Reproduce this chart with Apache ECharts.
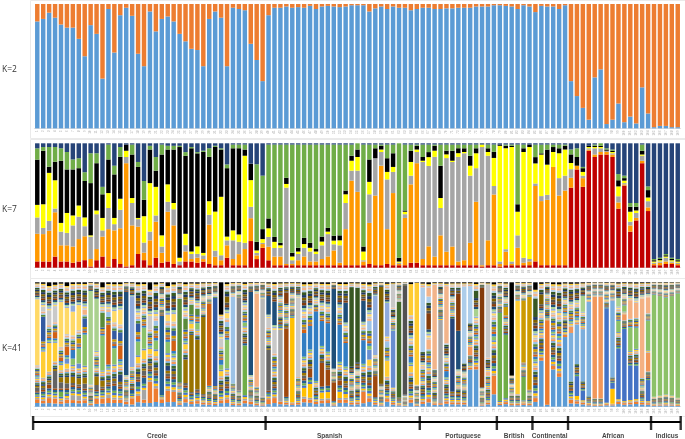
<!DOCTYPE html>
<html><head><meta charset="utf-8">
<style>html,body{margin:0;padding:0;background:#fff}#c{width:685px;height:439px}</style>
<script src="https://cdn.jsdelivr.net/npm/echarts@6/dist/echarts.min.js"></script>
</head><body><div id="c"></div>
<script>
const sampleIds = Array.from({length:109},(_, i)=>String(i+1));

const k2Blue = [86,88,93,89,83.5,81,81,72,58,83,76,40,96,61,91,97,90.5,60,50,94,78,88,90,86,76,70,64,63,50,88,94,89,50,97,96,95,68,55,38,91,
97,97,98,97,97.5,97,98.5,96,98,98.5,98,97.5,98,99,99,99,94,96.5,98,96,98,97,97,95,96,97,97,96,96,96.5,96.5,97,97,97,98,98,98,99,99,98.5,98,96,99,98,93.5,98.5,98,98,96,99,
38,26,16.5,7,41,47.5,3.5,7,20,5,9.5,4,33,12,1,2,2,1,1];

const k7Colors = ['#C00000','#FF9900','#A5A5A5','#FFFF00','#000000','#70AD47','#264478'];
// per sample, bottom to top: red, orange, gray, yellow, black, green, navy
const k7Rows = [
[5,22,13,10,36,9,4],[5,22,5,19,43,3,3],[5,25,8,39,5,16,3],[9,36,3,23,15,12,3],[5,13,11,7,50,10,4],[5,13,10,16,35,14,7],[4,13,17,8,37,8,13],[5,18,18,9,30,8,12],[6,19,8,7,29,7,23],[1,6,18,1,42,24,8],
[6,9,28,3,38,8,8],[9,16,5,10,19,6,35],[1,30,17,12,27,12,1],[7,23,5,5,35,7,18],[3,29,15,9,34,8,3],[1,83,5,5,5,0,1],[2,32,18,4,35,8,1],[11,22,6,1,41,4,15],[6,6,8,21,13,15,30],[2,20,7,39,27,3,2],
[8,29,5,23,13,11,11],[4,8,5,9,65,8,1],[5,40,8,14,28,3,2],[3,31,13,5,43,3,2],[2,0,3,3,89,1,2],[5,8,5,9,62,3,7],[5,2,4,2,83,1,3],[4,4,3,6,74,1,7],[5,2,3,2,82,1,6],[3,32,8,11,36,7,4],
[2,7,5,32,53,1,2],[2,4,4,47,38,1,4],[8,10,4,3,55,3,17],[2,5,15,8,66,3,1],[2,9,10,6,70,3,1],[2,13,5,70,5,4,1],[21,18,9,21,13,0,16],[7,3,2,2,7,63,17],[16,3,1,3,8,43,26],[6,11,8,7,8,60,1],
[2,7,7,5,4,75,1],[2,7,7,2,2,79,1],[2,1,62,3,5,27,1],[2,1,3,3,3,87,1],[2,4,5,2,3,83,1],[2,7,7,3,5,75,1],[2,3,8,3,4,79,1],[2,3,6,2,2,84,1],[2,5,11,3,4,74,1],[2,7,18,2,3,67,1],
[2,12,5,3,4,74,1],[2,2,14,4,4,73,1],[2,29,21,7,3,37,1],[2,68,8,8,4,9,1],[2,59,17,11,6,5,0],[2,3,1,7,4,82,1],[3,33,23,10,18,12,1],[2,56,30,0,8,3,1],[2,80,11,2,3,1,1],[3,28,40,6,11,11,1],
[2,58,17,4,11,7,1],[2,1,1,1,3,93,0],[2,38,3,2,1,53,1],[4,63,7,11,9,5,1],[4,80,9,2,3,1,1],[2,5,78,1,3,10,1],[2,15,64,7,4,6,1],[2,7,81,5,4,1,1],[2,24,22,8,26,17,1],[2,11,76,3,3,5,1],
[2,15,68,1,8,5,1],[2,3,85,3,4,3,1],[2,4,86,1,3,3,1],[2,18,54,8,8,9,1],[2,51,27,12,4,3,1],[1,1,95,2,0,0,1],[2,20,68,3,3,3,1],[2,58,7,23,5,6,1],[1,2,2,93,1,0,1],[2,11,2,82,2,1,1],
[2,1,2,92,1,1,1],[2,14,10,19,6,48,1],[2,2,4,85,3,3,1],[2,3,2,90,2,0,1],[5,60,2,16,5,10,1],[2,51,4,33,1,7,1],[2,52,4,24,12,4,1],[2,79,0,12,4,2,1],[2,56,14,20,4,3,1],[2,60,12,21,3,1,1],
[65,8,7,5,7,4,5],[79,3,0,0,7,7,4],[65,7,2,3,3,1,19],[94,1,1,1,1,0,2],[89,2,5,1,1,1,1],[91,2,3,1,1,2,0],[91,2,1,0,1,1,4],[89,2,1,1,1,1,5],[48,5,5,8,5,5,25],[66,1,1,2,2,2,26],
[29,5,3,8,4,3,48],[38,2,4,2,3,3,48],[84,2,4,1,3,5,1],[46,3,5,3,6,3,35],[2,1,1,1,1,1,93],[2,2,1,1,1,1,92],[3,2,3,1,1,1,89],[3,1,1,1,1,1,92],[2,1,1,1,1,1,93]
];

const k41Colors = ['#5B9BD5','#ED7D31','#A5A5A5','#FFC000','#4472C4','#70AD47','#255E91','#9E480E','#636363','#997300','#264478','#43682B',
'#7CAFDD','#F1975A','#B7B7B7','#FFCD33','#698ED0','#8CC168','#327DC2','#D26012','#848484','#CC9A00','#335AA1','#5A8B39',
'#9DC3E6','#F4B183','#C9C9C9','#FFD966','#8FAADC','#A9D18E','#1F4E79','#843C0C','#525252','#7F6000','#203864','#385723',
'#ADCDEA','#F2B48A','#C8C8C8','#FFCC33','#000000'];
// background share of each of the 41 clusters in a sample
const k41Minor = [2.0,1.6,1.0,1.0,1.1,1.0,1.3,1.0,1.2,1.2,1.0,1.2,0.8,0.9,0.9,0.9,0.8,0.9,1.1,0.9,1.1,1.1,1.0,1.1,0.9,1.0,0.9,0.9,0.8,0.9,1.2,1.1,1.2,1.2,1.2,1.3,0.9,1.0,0.9,0.8,0.9];
// clusters that stand out per sample: [cluster, percent]
const k41Major = [
[[28,53],[1,3],[2,3],[9,3]],[[23,20],[16,21],[27,4],[2,2]],[[16,23],[27,12],[2,4],[8,3],[41,3]],[[16,15],[9,14],[20,5],[27,13],[2,4],[41,2]],[[28,36],[20,3],[6,4],[16,4],[9,5],[10,4]],[[28,21],[20,7],[2,3],[17,4],[10,5],[9,4],[16,4],[41,3]],[[28,19],[19,7],[3,4],[18,5],[10,5],[29,5]],[[28,20],[18,12],[3,4],[17,4],[10,5],[22,4]],[[18,25],[23,7],[10,5],[9,4],[26,4]],[[30,75]],
[[30,42],[10,7],[9,4],[2,4]],[[18,28],[24,12],[10,5],[2,4],[41,4]],[[20,32],[3,3],[2,4],[25,4]],[[18,13],[23,7],[28,9],[7,4],[1,3]],[[28,12],[20,11],[23,7],[11,6],[1,3]],[[31,67],[1,2],[2,2],[3,2]],[[29,57],[2,5],[7,3]],[[18,11],[23,7],[16,5],[2,5],[7,4]],[[18,17],[16,7],[3,8],[7,5],[9,4]],[[2,17],[27,11],[16,4],[9,3],[1,3],[41,6]],
[[18,7],[2,11],[16,4],[25,4]],[[7,64],[2,3],[1,3]],[[2,9],[18,9],[28,5],[11,4],[41,3]],[[20,8],[23,4],[2,8],[28,6]],[[24,67]],[[10,19],[24,9],[16,4]],[[10,46],[24,8],[16,4]],[[10,40],[24,5],[18,5]],[[10,62]],[[20,66]],
[[23,71]],[[41,26],[27,7],[19,4],[18,4],[16,4]],[[18,23],[28,4],[25,4],[34,5],[1,3],[2,3]],[[25,70]],[[21,75]],[[6,40],[18,3]],[[31,67],[1,2],[2,2],[3,2]],[[26,75]],[[15,79]],[[9,33],[31,15],[27,8],[2,4]],
[[31,19],[27,19],[2,4]],[[3,58],[2,2],[1,2]],[[8,55],[32,9]],[[4,68]],[[27,64]],[[19,19],[4,7],[20,3]],[[4,11],[19,19],[8,7]],[[19,56]],[[8,19],[19,20],[4,5]],[[19,23],[8,13],[4,5]],
[[31,64],[8,15]],[[19,30],[4,5],[8,4]],[[19,19],[31,16],[4,3]],[[36,64]],[[36,60]],[[31,17],[19,19],[2,9]],[[18,3],[17,8],[2,3],[25,8],[16,5]],[[29,48],[8,17]],[[34,78]],[[29,27],[16,13],[1,4],[25,5]],
[[17,46],[39,19]],[[12,77]],[[33,88]],[[40,25],[16,5],[19,5]],[[40,82]],[[37,52]],[[38,7],[37,5],[32,13],[26,8]],[[38,68]],[[3,67]],[[38,46],[19,5]],
[[11,59]],[[32,30],[31,31]],[[37,62]],[[37,30],[14,7],[1,30]],[[1,30],[36,6],[30,6]],[[32,80]],[[39,59],[26,3]],[[2,15],[1,10],[18,3]],[[6,71]],[[6,51],[22,7]],
[[41,75]],[[16,75]],[[22,50],[6,19]],[[22,75]],[[41,6],[36,15]],[[1,37],[34,8]],[[2,68]],[[1,30]],[[1,24]],[[1,56]],
[[13,39],[2,3],[14,5]],[[13,32],[5,16],[4,3]],[[13,42],[5,8],[30,13]],[[13,76]],[[14,82]],[[14,82]],[[5,76]],[[13,62],[4,12],[5,5]],[[5,41],[30,7],[18,9]],[[5,58],[18,5],[14,5]],
[[5,28],[18,19],[26,15]],[[5,27],[26,12],[18,17]],[[26,64]],[[5,17],[18,24],[14,15],[26,13]],[[18,82]],[[18,80]],[[18,78]],[[18,80]],[[18,84]]
];

const groupEdges = [0.3,39.5,65.5,78.5,84.5,90.5,104.5,109.5];
const groupNames = ['Creole','Spanish','Portuguese','British','Continental','African','Indicus'];
const groupLabelAt = [21.2,50.3,72.8,81.4,87.4,98.1,107.2];
const panelNames = ['K=2','K=7','K=41'];

const fullStack = rows => rows.map(r=>{const s=r.reduce((a,b)=>a+b,0);return r.map(v=>v/s*100);});
const k7Norm = fullStack(k7Rows);
const k41Rows = k41Major.map(list=>{
  const big = {}; list.forEach(([c,v])=>big[c]=v);
  const used = list.reduce((a,p)=>a+p[1],0);
  const rest = k41Minor.reduce((a,v,i)=>a+(big[i+1]?0:v),0);
  return k41Minor.map((v,i)=>big[i+1]?big[i+1]:v*(100-used)/rest);
});

const L=34.3, W=646.4;
const tops=[4,143.3,282.3], H=124.4;
const grids=tops.map(t=>({left:L,width:W,top:t,height:H}));
grids.push({left:L,width:W,top:414,height:25});
const xAxes=tops.map((t,i)=>({type:'category',gridIndex:i,data:sampleIds,
  axisLine:{lineStyle:{color:'#E2E2E2',width:1}},axisTick:{show:false},
  axisLabel:{interval:0,fontSize:3,color:'#a8a8a8',rotate:90,margin:2,fontFamily:'Liberation Sans'}}));
xAxes.push({type:'value',gridIndex:3,min:0.5,max:109.5,show:false});
const yAxes=tops.map((t,i)=>({type:'value',gridIndex:i,min:0,max:100,show:false}));
yAxes.push({type:'value',gridIndex:3,min:0,max:25,show:false});

const barSeries=(axis,name,color,data)=>({type:'bar',name,xAxisIndex:axis,yAxisIndex:axis,stack:'p'+axis,data,
  barCategoryGap:'25%',itemStyle:{color},silent:true,animation:false});
const series=[];
series.push(barSeries(0,'blue','#5B9BD5',k2Blue));
series.push(barSeries(0,'orange','#ED7D31',k2Blue.map(v=>100-v)));
k7Colors.forEach((c,j)=>series.push(barSeries(1,'k7-'+j,c,k7Norm.map(r=>r[j]))));
k41Colors.forEach((c,j)=>series.push(barSeries(2,'k41-'+j,c,k41Rows.map(r=>r[j]))));
const lineY=17, labelY=3;
series.push({type:'line',xAxisIndex:3,yAxisIndex:3,data:groupEdges.map(e=>[e,lineY]),symbol:'none',
  lineStyle:{color:'#000',width:2},silent:true,animation:false});
series.push({type:'scatter',xAxisIndex:3,yAxisIndex:3,data:groupEdges.map(e=>[e,lineY-1]),symbol:'rect',symbolSize:[2.4,14],
  itemStyle:{color:'#000'},silent:true,animation:false,clip:false});
series.push({type:'scatter',xAxisIndex:3,yAxisIndex:3,data:groupLabelAt.map((x,i)=>({value:[x,labelY],name:groupNames[i]})),symbolSize:0,
  label:{show:true,position:'inside',formatter:p=>p.name,fontSize:6.5,fontWeight:'bold',color:'#111',fontFamily:'Liberation Sans'},silent:true,animation:false,clip:false});

const panels=[[0,138],[139,139],[278,138]];
const chart=echarts.init(document.getElementById('c'),null,{renderer:'canvas'});
chart.setOption({
  animation:false,
  backgroundColor:'#fff',
  title:panelNames.map((t,i)=>({text:t,left:2,top:[65.5,205,344.5][i],textStyle:{fontSize:8.5,fontWeight:'normal',color:'#333',fontFamily:'Open Sans'},padding:0})),
  graphic:panels.map(p=>({type:'rect',silent:true,z:-1,shape:{x:30.5,y:p[0]+0.5,width:660,height:p[1]},style:{fill:'none',stroke:'#EAEAEA',lineWidth:1}})),
  grid:grids,xAxis:xAxes,yAxis:yAxes,series
});
</script></body></html>
